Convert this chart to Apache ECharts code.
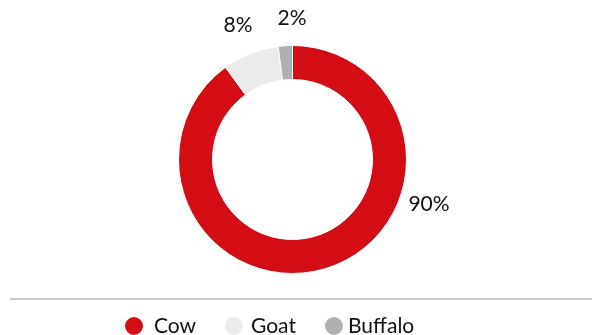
<!DOCTYPE html>
<html lang="en">
<head>
    <meta charset="UTF-8">
    <title>Milk share</title>
    <style>
        html, body { margin: 0; padding: 0; background: #fff; }
        #chart { width: 594px; height: 335px; }
    </style>
</head>
<body>
    <div id="chart"></div>
    <script src="https://cdn.jsdelivr.net/npm/echarts@6/dist/echarts.min.js"></script>
    <script>
        const categories = ['Cow', 'Goat', 'Buffalo'];
        const shares = [90, 8, 2];
        const colors = ['#d40c14', '#ebebeb', '#b0b0b0'];

        // where each percentage label sits (px)
        const labelSpots = [[429, 204], [238, 25], [292, 18]];
        const legendLeft = [118, 218, 318];
        const legendTextGap = [10, 7, 4];

        const chart = echarts.init(document.getElementById('chart'));

        const legends = categories.map(function (name, i) {
            return {
                data: [name],
                left: legendLeft[i],
                top: 310,
                icon: 'circle',
                itemWidth: 20,
                itemHeight: 20,
                selectedMode: false,
                textStyle: {
                    fontFamily: 'Lato',
                    fontSize: 21,
                    color: '#111',
                    padding: [0, 0, 0, legendTextGap[i] - 5]
                }
            };
        });

        chart.setOption({
            animation: false,
            color: colors,
            legend: legends,
            graphic: [{
                type: 'line',
                shape: { x1: 10, y1: 299, x2: 592, y2: 299 },
                style: { stroke: '#999', lineWidth: 1 }
            }],
            series: [{
                type: 'pie',
                center: [292.5, 159.5],
                radius: [80, 114],
                startAngle: 90,
                clockwise: true,
                itemStyle: { borderColor: '#fff', borderWidth: 1 },
                label: {
                    show: true,
                    position: 'outside',
                    formatter: '{c}%',
                    fontFamily: 'Lato',
                    fontSize: 21,
                    color: '#111'
                },
                labelLine: { show: false },
                labelLayout: function (p) {
                    const s = labelSpots[p.dataIndex];
                    return { x: s[0], y: s[1], align: 'center', verticalAlign: 'middle' };
                },
                emphasis: { disabled: true },
                data: categories.map(function (name, i) {
                    return { name: name, value: shares[i] };
                })
            }]
        });
    </script>
</body>
</html>
